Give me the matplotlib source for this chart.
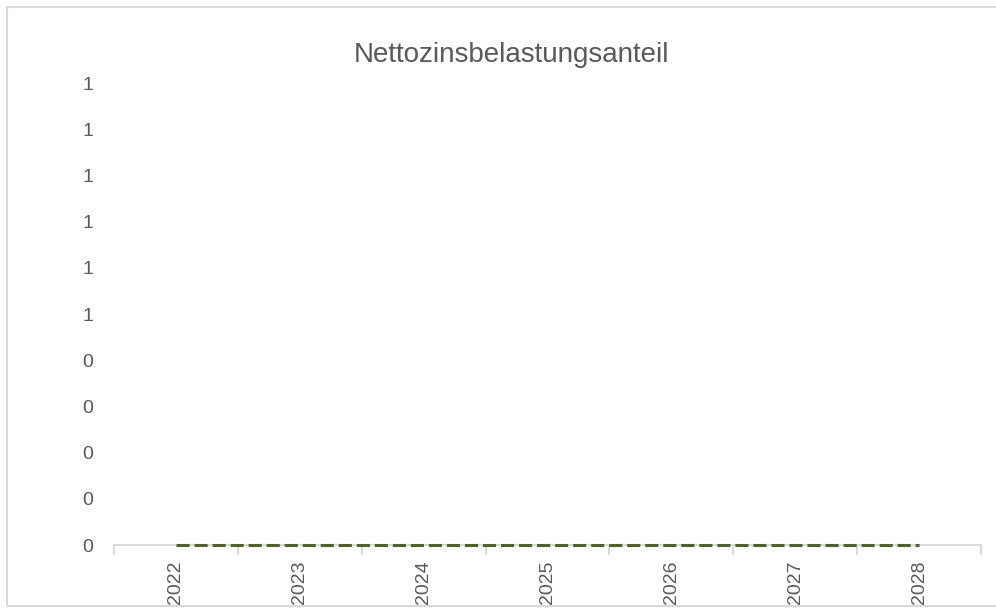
import math
import matplotlib
matplotlib.use("Agg")
import matplotlib.pyplot as plt
from matplotlib.patches import Rectangle
from matplotlib.ticker import FixedLocator, FuncFormatter

years = ["2022", "2023", "2024", "2025", "2026", "2027", "2028"]
values = [0, 0, 0, 0, 0, 0, 0]
y_ticks = [0.0, 0.1, 0.2, 0.3, 0.4, 0.5, 0.6, 0.7, 0.8, 0.9, 1.0]

plt.rcParams['font.family'] = ['Liberation Sans', 'DejaVu Sans']
text_color = "#595959"
border_color = "#d9d9d9"

W, H = 996, 608
fig = plt.figure(figsize=(W / 100, H / 100), dpi=100)

# chart border (right edge lies outside the picture)
fig.patches.append(Rectangle((7 / W, 1 - 606 / H), 1.2, (606 - 7) / H,
                             transform=fig.transFigure, fill=False,
                             edgecolor=border_color, linewidth=1.5))

ax = fig.add_axes([114 / W, 1 - 545 / H, (981 - 114) / W, (545 - 83) / H])
x = list(range(len(years)))
ax.plot(x, values, color="#4F6228", linewidth=2.2, dashes=(4.3, 1.6),
        dash_capstyle="butt", clip_on=False, zorder=3)

ax.set_xlim(-0.5, len(years) - 0.5)
ax.set_ylim(0, 1)
ax.set_yticks(y_ticks)
# Excel style: no decimals, halves round up
ax.yaxis.set_major_formatter(FuncFormatter(lambda v, p: "%d" % math.floor(v + 0.5 + 1e-9)))
ax.set_xticks(x)
ax.set_xticklabels(years, rotation=90)
ax.xaxis.set_minor_locator(FixedLocator([i - 0.5 for i in range(len(years) + 1)]))

for side in ["top", "right", "left"]:
    ax.spines[side].set_visible(False)
ax.spines["bottom"].set_color(border_color)
ax.spines["bottom"].set_linewidth(1.5)

ax.tick_params(axis="y", length=0, pad=15, labelsize=14, labelcolor=text_color)
ax.tick_params(axis="x", which="major", length=0, pad=11, labelsize=14, labelcolor=text_color)
ax.tick_params(axis="x", which="minor", length=7, width=1.5, color=border_color)

fig.text(512 / W, 1 - 62 / H, "Nettozinsbelastungsanteil", ha="center", va="baseline",
         fontsize=20, color=text_color)

fig.savefig("out.png", dpi=100)
